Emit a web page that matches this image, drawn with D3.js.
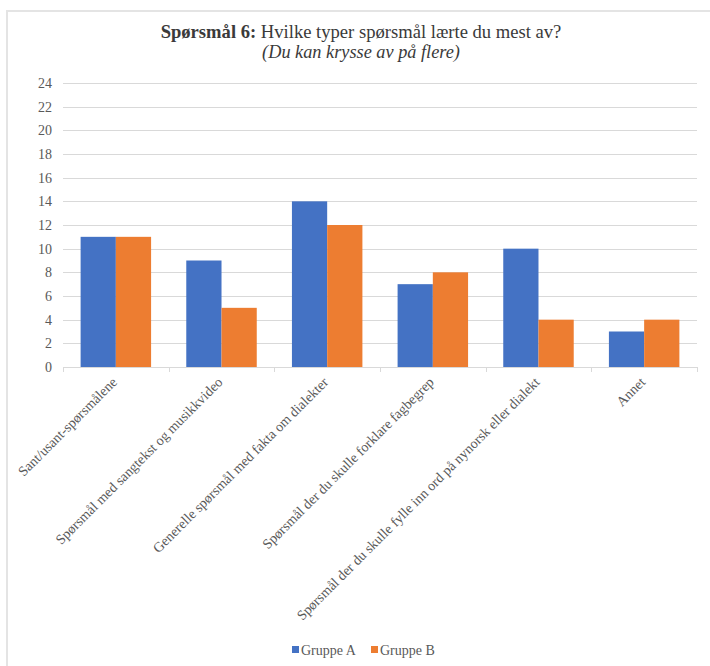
<!DOCTYPE html>
<html>
<head>
<meta charset="utf-8">
<script src="https://cdn.jsdelivr.net/npm/d3@7"></script>
<style>
  body { margin: 0; background: #fff; }
  svg text { font-family: "Liberation Serif", "Times New Roman", serif; }
</style>
</head>
<body>
<svg id="chart" width="710" height="666"></svg>
<script>
var categories = [
  "Sant/usant-spørsmålene",
  "Spørsmål med sangtekst og musikkvideo",
  "Generelle spørsmål med fakta om dialekter",
  "Spørsmål der du skulle forklare fagbegrep",
  "Spørsmål der du skulle fylle inn ord på nynorsk eller dialekt",
  "Annet"
];
var seriesNames = ["Gruppe A", "Gruppe B"];
var gruppeA = [11, 9, 14, 7, 10, 3];
var gruppeB = [11, 5, 12, 8, 4, 4];
var yTicks = [0, 2, 4, 6, 8, 10, 12, 14, 16, 18, 20, 22, 24];
var colors = ["#4472c4", "#ed7d31"];

var svg = d3.select('#chart');
var margin = {left: 63, right: 13, top: 83, bottom: 299};
var W = 710, H = 666;

// frame (only top + left edge visible)
svg.append('path')
  .attr('d', 'M7,666 L7,11 L710,11')
  .attr('fill', 'none')
  .attr('stroke', '#e4e4e4')
  .attr('stroke-width', 2);

// title
var title = svg.append('text')
  .attr('x', 361).attr('y', 38)
  .attr('text-anchor', 'middle')
  .attr('font-size', 18.6)
  .attr('fill', '#3a3a3a');
title.append('tspan').attr('font-weight', 'bold').text('Spørsmål 6:');
title.append('tspan').text(' Hvilke typer spørsmål lærte du mest av?');

svg.append('text')
  .attr('x', 361).attr('y', 58)
  .attr('text-anchor', 'middle')
  .attr('font-size', 18.3)
  .attr('font-style', 'italic')
  .attr('fill', '#3a3a3a')
  .text('(Du kan krysse av på flere)');

var x0 = d3.scaleBand()
  .domain(categories)
  .range([margin.left, W - margin.right])
  .paddingInner(0.333)
  .paddingOuter(0.1667);

var x1 = d3.scaleBand()
  .domain(seriesNames)
  .range([0, x0.bandwidth()]);

var y = d3.scaleLinear()
  .domain([0, 24])
  .range([H - margin.bottom, margin.top]);

// gridlines
svg.append('g')
  .selectAll('line')
  .data(yTicks)
  .enter().append('line')
  .attr('x1', margin.left)
  .attr('x2', W - margin.right)
  .attr('y1', function(d){ return Math.round(y(d)) + 0.5; })
  .attr('y2', function(d){ return Math.round(y(d)) + 0.5; })
  .attr('stroke', '#d9d9d9')
  .attr('stroke-width', 1);

// y labels
svg.append('g')
  .selectAll('text')
  .data(yTicks)
  .enter().append('text')
  .attr('x', 52)
  .attr('y', function(d){ return y(d); })
  .attr('dy', '0.35em')
  .attr('text-anchor', 'end')
  .attr('font-size', 14)
  .attr('fill', '#595959')
  .text(function(d){ return d; });

// bars
var groups = svg.append('g')
  .selectAll('g')
  .data(categories)
  .enter().append('g')
  .attr('transform', function(d){ return 'translate(' + x0(d) + ',0)'; });

groups.selectAll('rect')
  .data(function(d, i){ return [
    {s: seriesNames[0], v: gruppeA[i]},
    {s: seriesNames[1], v: gruppeB[i]}
  ]; })
  .enter().append('rect')
  .attr('x', function(d){ return x1(d.s); })
  .attr('width', x1.bandwidth())
  .attr('y', function(d){ return y(d.v); })
  .attr('height', function(d){ return y(0) - y(d.v); })
  .attr('fill', function(d, i){ return colors[i]; });

// x axis line + ticks at band edges
var xAxis = svg.append('g');
var step = x0.step();
var edges = [margin.left].concat(categories.map(function(c){ return x0(c) + x0.bandwidth() + step * 0.1667; }));
xAxis.append('line')
  .attr('x1', margin.left).attr('x2', W - margin.right)
  .attr('y1', y(0) + 0.5).attr('y2', y(0) + 0.5)
  .attr('stroke', '#d9d9d9');
xAxis.selectAll('line.tick')
  .data(edges)
  .enter().append('line')
  .attr('class', 'tick')
  .attr('x1', function(d){ return Math.round(d) + 0.5; })
  .attr('x2', function(d){ return Math.round(d) + 0.5; })
  .attr('y1', y(0))
  .attr('y2', y(0) + 5)
  .attr('stroke', '#d9d9d9');

// rotated category labels
xAxis.selectAll('text')
  .data(categories)
  .enter().append('text')
  .attr('transform', function(d){
    var cx = x0(d) + x0.bandwidth() / 2 + 2;
    return 'translate(' + cx + ',' + (y(0) + 16) + ') rotate(-45)';
  })
  .attr('text-anchor', 'end')
  .attr('font-size', 14)
  .attr('fill', '#595959')
  .text(function(d){ return d; });

// legend
var legend = svg.append('g').attr('transform', 'translate(292,650)');
var items = legend.selectAll('g')
  .data(seriesNames)
  .enter().append('g')
  .attr('transform', function(d, i){ return 'translate(' + (i * 79) + ',0)'; });
items.append('rect')
  .attr('x', 0).attr('y', -4)
  .attr('width', 7).attr('height', 7)
  .attr('fill', function(d, i){ return colors[i]; });
items.append('text')
  .attr('x', 9).attr('y', 0)
  .attr('dy', '0.35em')
  .attr('font-size', 14)
  .attr('fill', '#595959')
  .text(function(d){ return d; });
</script>
</body>
</html>
